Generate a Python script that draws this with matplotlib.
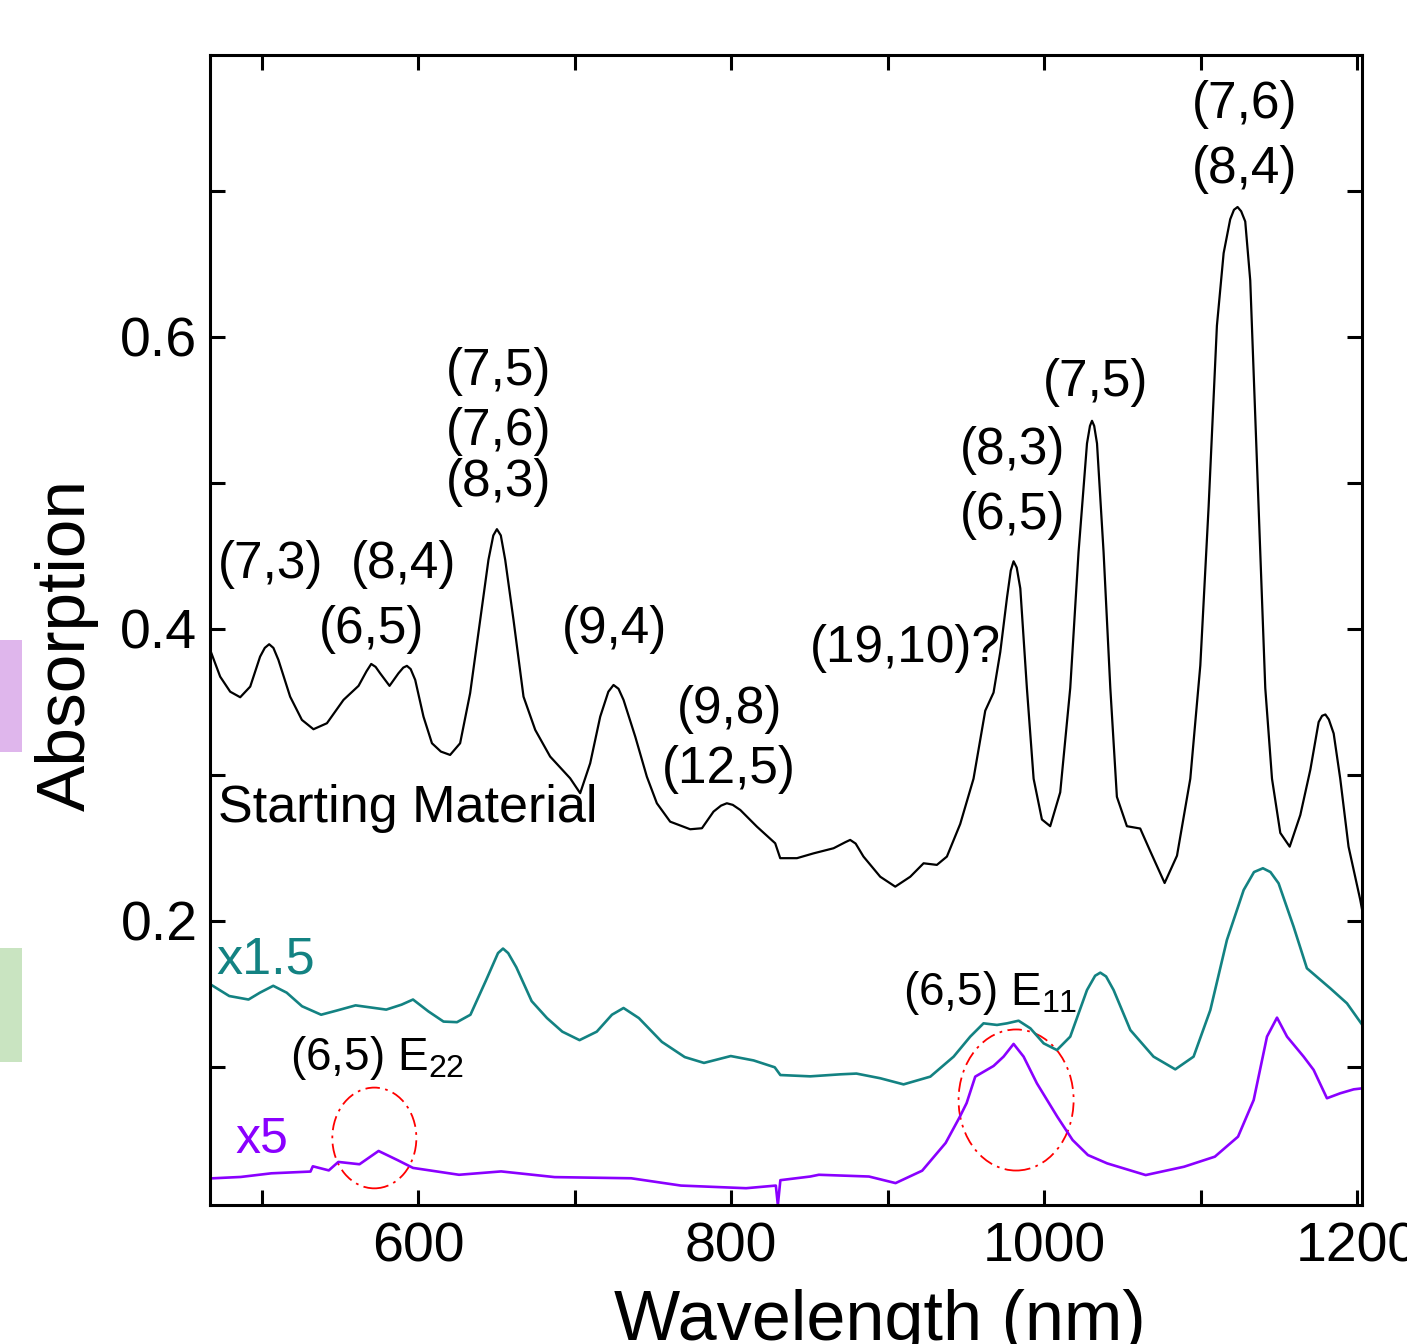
import matplotlib
matplotlib.use("Agg")
import matplotlib.pyplot as plt
from matplotlib.patches import Ellipse, Rectangle

plt.rcParams['font.family'] = ['Liberation Sans', 'DejaVu Sans']
plt.rcParams['mathtext.default'] = 'regular'

# ---- data ----
start_x = [467.1, 473.5, 479.9, 486.3, 492.7, 499.0, 502.0, 504.8, 507.5, 510.7, 518.2, 525.7, 533.1, 541.7,
           552.3, 561.9, 567.0, 570.0, 572.8, 575.7, 581.7, 587.4, 590.5, 592.8, 595.2, 598.1, 603.4, 608.8,
           614.5, 620.4, 626.8, 633.2, 639.6, 644.9, 648.0, 650.3, 652.8, 655.6, 660.9, 667.3, 674.8, 684.3,
           697.1, 703.5, 709.9, 716.3, 721.5, 724.8, 728.0, 731.2, 738.7, 746.1, 752.5, 761.0, 773.8, 781.3,
           788.7, 793.5, 797.2, 801.0, 805.8, 816.4, 828.1, 831.3, 842.0, 852.6, 865.4, 873.0, 876.0, 879.5,
           884.5, 895.2, 904.8, 914.4, 922.9, 931.4, 937.8, 946.3, 954.8, 962.3, 967.6, 971.9, 976.2, 978.6,
           980.4, 982.4, 984.7, 988.9, 993.2, 998.5, 1003.8, 1010.2, 1016.6, 1021.9, 1027.3, 1029.2, 1030.5,
           1031.9, 1033.7, 1037.9, 1042.2, 1046.4, 1052.8, 1061.3, 1067.7, 1076.9, 1084.8, 1093.3, 1099.7,
           1105.0, 1110.3, 1114.6, 1118.8, 1121.2, 1123.5, 1125.8, 1128.4, 1131.6, 1134.8, 1138.0, 1141.2,
           1145.5, 1150.8, 1156.8, 1163.6, 1170.0, 1175.3, 1177.5, 1179.6, 1181.8, 1184.9, 1189.1, 1194.4,
           1201.9, 1203.0]
start_y = [0.3856, 0.3673, 0.3570, 0.3532, 0.3605, 0.3810, 0.3870, 0.3895, 0.3870, 0.3788, 0.3536, 0.3377,
           0.3313, 0.3354, 0.3514, 0.3610, 0.3710, 0.3760, 0.3740, 0.3696, 0.3610, 0.3696, 0.3735, 0.3747,
           0.3725, 0.3651, 0.3399, 0.3217, 0.3160, 0.3137, 0.3217, 0.3560, 0.4062, 0.4473, 0.4640, 0.4683,
           0.4640, 0.4473, 0.4062, 0.3536, 0.3308, 0.3126, 0.2977, 0.2875, 0.3080, 0.3399, 0.3570, 0.3616,
           0.3590, 0.3514, 0.3262, 0.2988, 0.2806, 0.2680, 0.2628, 0.2635, 0.2749, 0.2790, 0.2806, 0.2795,
           0.2760, 0.2646, 0.2532, 0.2430, 0.2430, 0.2463, 0.2498, 0.2540, 0.2555, 0.2530, 0.2441, 0.2303,
           0.2235, 0.2303, 0.2395, 0.2384, 0.2441, 0.2664, 0.2974, 0.3440, 0.3564, 0.3842, 0.4215, 0.4400,
           0.4463, 0.4420, 0.4277, 0.3595, 0.2974, 0.2695, 0.2649, 0.2881, 0.3595, 0.4525, 0.5270, 0.5390,
           0.5425, 0.5390, 0.5270, 0.4525, 0.3595, 0.2850, 0.2649, 0.2633, 0.2478, 0.2260, 0.2447, 0.2974,
           0.3750, 0.4836, 0.6076, 0.6573, 0.6805, 0.6870, 0.6889, 0.6860, 0.6790, 0.6386, 0.5456, 0.4525,
           0.3595, 0.2974, 0.2603, 0.2509, 0.2726, 0.3036, 0.3362, 0.3405, 0.3414, 0.3380, 0.3284, 0.2974,
           0.2509, 0.2144, 0.2080]

teal_x = [467.1, 479.3, 491.6, 498.9, 507.4, 516.0, 525.8, 538.0, 547.8, 560.0, 579.6, 589.4, 596.7, 606.5,
          616.2, 624.8, 633.4, 643.2, 651.0, 654.2, 657.5, 662.7, 672.5, 682.3, 692.1, 703.1, 714.1, 723.8,
          731.2, 741.0, 755.7, 770.3, 782.6, 799.7, 814.3, 827.8, 831.4, 850.5, 870.0, 880.0, 895.2, 910.1,
          927.2, 942.1, 952.7, 961.2, 969.8, 976.2, 983.6, 991.1, 999.6, 1008.1, 1016.6, 1027.3, 1032.5,
          1035.8, 1039.5, 1044.3, 1055.0, 1069.8, 1083.7, 1095.4, 1106.1, 1116.7, 1127.4, 1134.0, 1139.7,
          1144.5, 1149.7, 1159.3, 1167.8, 1182.7, 1193.4, 1203.2]
teal_y = [0.1567, 0.1486, 0.1462, 0.1509, 0.1556, 0.1509, 0.1416, 0.1358, 0.1386, 0.1422, 0.1393, 0.1427,
          0.1462, 0.1381, 0.1311, 0.1307, 0.1358, 0.1590, 0.1780, 0.1811, 0.1780, 0.1683, 0.1451, 0.1335,
          0.1242, 0.1184, 0.1242, 0.1358, 0.1404, 0.1335, 0.1172, 0.1068, 0.1028, 0.1075, 0.1045, 0.0998,
          0.0945, 0.0936, 0.0950, 0.0955, 0.0923, 0.0881, 0.0934, 0.1071, 0.1208, 0.1299, 0.1288, 0.1299,
          0.1317, 0.1265, 0.1162, 0.1116, 0.1208, 0.1527, 0.1625, 0.1646, 0.1620, 0.1527, 0.1253, 0.1071,
          0.0984, 0.1071, 0.1390, 0.1870, 0.2212, 0.2335, 0.2361, 0.2335, 0.2258, 0.1961, 0.1676, 0.1539,
          0.1436, 0.1288]

violet_x = [467.1, 486.6, 506.2, 531.2, 532.7, 542.9, 549.0, 562.5, 574.7, 586.9, 596.7, 626.1, 653.0, 687.2,
            736.1, 767.9, 809.5, 828.5, 829.8, 831.4, 850.5, 856.0, 888.0, 905.0, 922.0, 937.0, 946.0, 950.4,
            955.9, 967.6, 974.0, 980.4, 986.8, 995.3, 1008.3, 1018.1, 1027.9, 1040.2, 1064.8, 1089.3, 1109.0,
            1123.8, 1133.8, 1142.3, 1148.7, 1155.1, 1165.7, 1172.1, 1180.6, 1189.1, 1197.7, 1203.2]
violet_y = [0.0237, 0.0247, 0.0272, 0.0284, 0.0320, 0.0292, 0.0350, 0.0334, 0.0425, 0.0362, 0.0309, 0.0262,
            0.0285, 0.0246, 0.0238, 0.0188, 0.0170, 0.0188, 0.0055, 0.0225, 0.0250, 0.0262, 0.0250, 0.0205,
            0.0290, 0.0480, 0.0658, 0.0753, 0.0934, 0.1007, 0.1071, 0.1158, 0.1071, 0.0888, 0.0660, 0.0500,
            0.0397, 0.0340, 0.0260, 0.0317, 0.0386, 0.0523, 0.0774, 0.1208, 0.1338, 0.1208, 0.1071, 0.0980,
            0.0786, 0.0820, 0.0847, 0.0854]

xticks = [500, 600, 700, 800, 900, 1000, 1100, 1200]
xticklabels = ['', '600', '', '800', '', '1000', '', '1200']
yticks = [0.1, 0.2, 0.3, 0.4, 0.5, 0.6, 0.7]
yticklabels = ['', '0.2', '', '0.4', '', '0.6', '']

label_text = ["(7,3)", "(8,4)", "(6,5)", "(7,5)", "(7,6)", "(8,3)", "(9,4)", "(9,8)", "(12,5)",
              "(19,10)?", "(8,3)", "(6,5)", "(7,5)", "(7,6)", "(8,4)"]
label_x = [505.9, 590.4, 570.0, 651.2, 651.2, 651.2, 725.2, 799.0, 798.4, 911.0, 979.6, 979.6, 1032.6,
           1128.0, 1128.0]
label_y = [0.4438, 0.4438, 0.3993, 0.5760, 0.5350, 0.5000, 0.3993, 0.3445, 0.3034, 0.3863, 0.5219, 0.4774,
           0.5685, 0.7589, 0.7144]

BLACK = 'black'
TEAL = '#138282'
VIOLET = '#8A00FF'

fig = plt.figure(figsize=(14.07, 13.44), dpi=100)
ax = fig.add_axes([210 / 1407, 1 - 1205 / 1344, (1362 - 210) / 1407, (1205 - 55) / 1344])

ax.plot(start_x, start_y, color=BLACK, lw=1.6, solid_joinstyle='round')
ax.plot(teal_x, teal_y, color=TEAL, lw=1.9, solid_joinstyle='round')
ax.plot(violet_x, violet_y, color=VIOLET, lw=1.9, solid_joinstyle='round')

ax.set_xlim(467, 1203)
ax.set_ylim(0.0055, 0.793)

ax.set_xticks(xticks)
ax.set_xticklabels(xticklabels)
ax.set_yticks(yticks)
ax.set_yticklabels(yticklabels)
ax.tick_params(direction='in', length=11, width=2.2, top=True, right=True, labelsize=40)
ax.tick_params(axis='x', pad=12)
ax.tick_params(axis='y', pad=9)
for s in ax.spines.values():
    s.set_linewidth(2.2)

for txt, x, y in zip(label_text, label_x, label_y):
    ax.text(x, y, txt, ha='center', va='center', fontsize=37)

ax.text(472, 0.277, "Starting Material", ha='left', va='center', fontsize=37.5)
ax.text(471, 0.173, "x1.5", ha='left', va='center', fontsize=37.5, color=TEAL)
ax.text(483.5, 0.050, "x5", ha='left', va='center', fontsize=36, color=VIOLET)
ax.text(518, 0.106, "(6,5) E$_{22}$", ha='left', va='center', fontsize=33)
ax.text(910, 0.151, "(6,5) E$_{11}$", ha='left', va='center', fontsize=33)

ax.add_patch(Ellipse((572, 0.0514), 53.7, 0.069, fill=False, edgecolor='red',
                     lw=1.3, linestyle=(0, (8, 3, 1.5, 3))))
ax.add_patch(Ellipse((982, 0.0774), 73.5, 0.0966, fill=False, edgecolor='red',
                     lw=1.3, linestyle=(0, (8, 3, 1.5, 3))))

fig.text(880 / 1407, 1 - 1340 / 1344, "Wavelength (nm)", ha='center', va='baseline', fontsize=50.5)
fig.text(66.5 / 1407, 1 - 645 / 1344, "Absorption", ha='center', va='center', rotation=90, fontsize=50)

fig.add_artist(Rectangle((0, 1 - 752 / 1344), 22 / 1407, 112 / 1344, transform=fig.transFigure,
                         facecolor='#DFB6EC', edgecolor='none'))
fig.add_artist(Rectangle((0, 1 - 1062 / 1344), 22 / 1407, 114 / 1344, transform=fig.transFigure,
                         facecolor='#C9E4C1', edgecolor='none'))

fig.savefig("out.png", dpi=100)
